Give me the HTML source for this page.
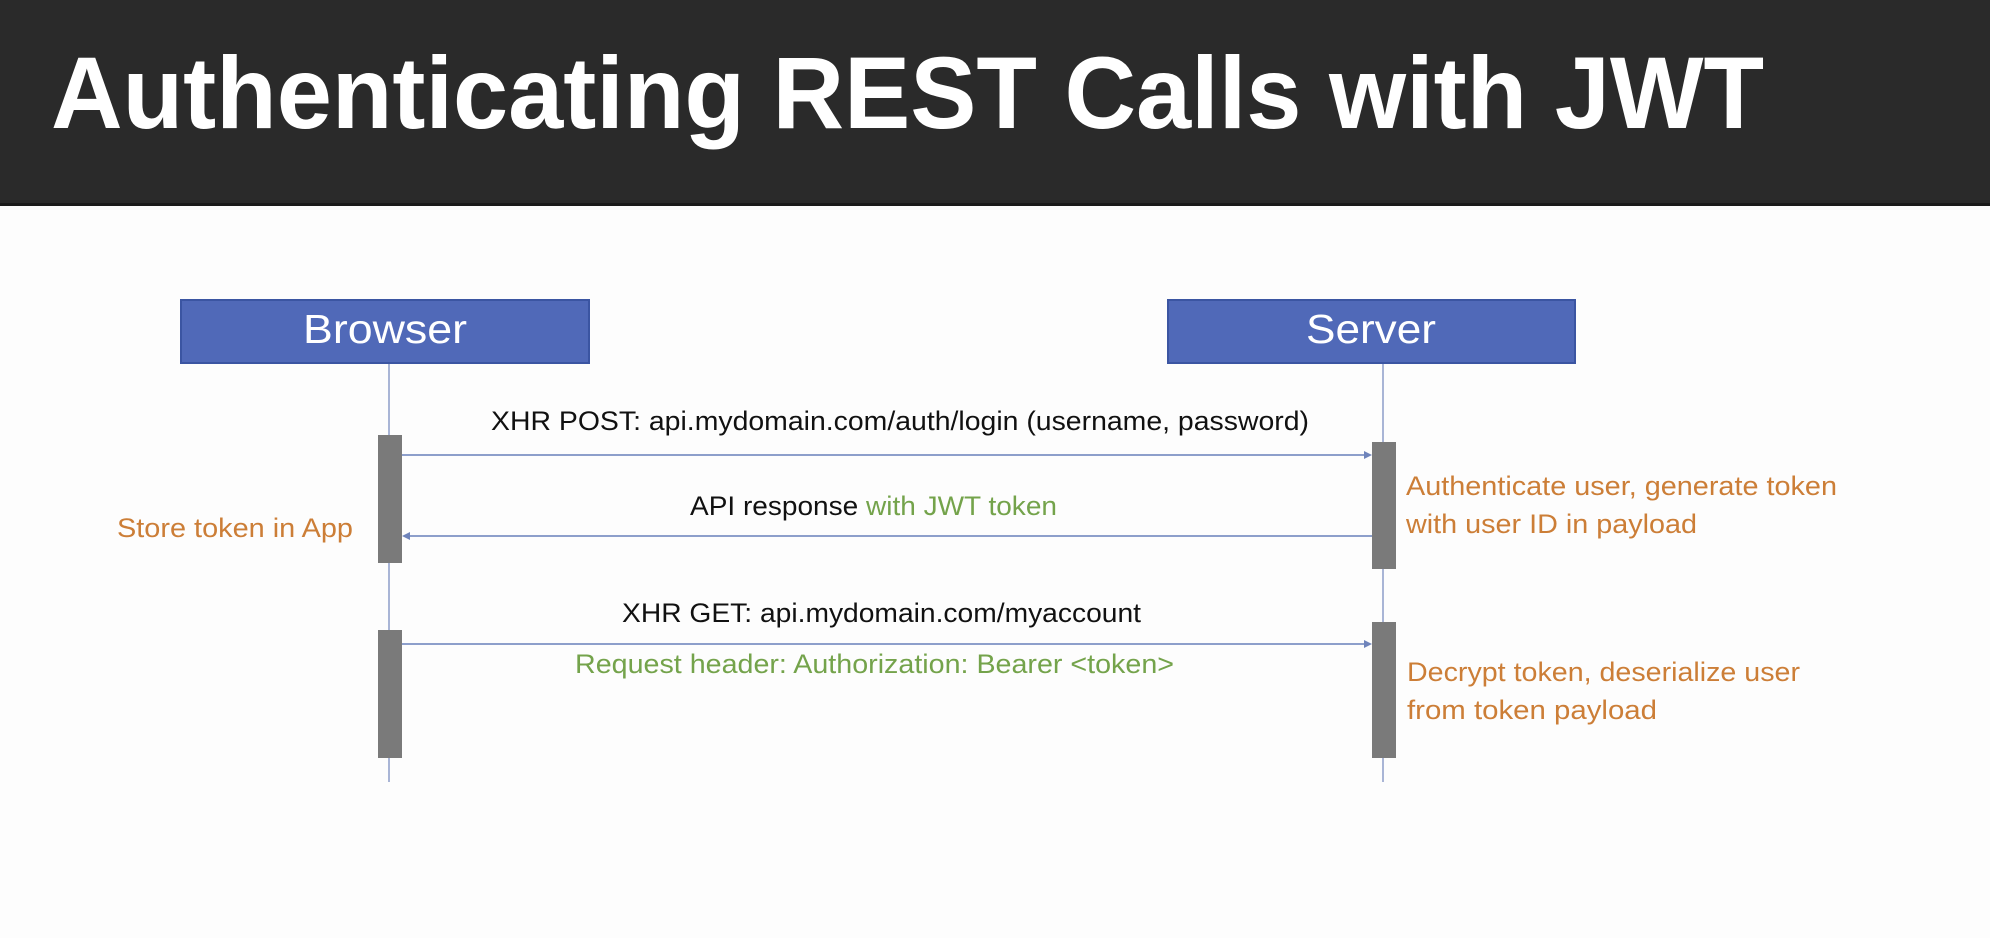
<!DOCTYPE html>
<html><head><meta charset="utf-8"><style>
html,body{margin:0;padding:0;width:1990px;height:938px;overflow:hidden;background:#fdfdfd}
svg{display:block}
text{font-family:"Liberation Sans",sans-serif}
</style></head><body>
<svg width="1990" height="938" viewBox="0 0 1990 938" xmlns="http://www.w3.org/2000/svg">
<rect x="0" y="0" width="1990" height="938" fill="#fdfdfd"/>
<rect x="0" y="0" width="1990" height="205" fill="#2a2a2a"/>
<rect x="0" y="203" width="1990" height="3" fill="#1a1a1a"/>
<text x="51" y="128" font-size="102" font-weight="bold" fill="#ffffff" textLength="1713" lengthAdjust="spacingAndGlyphs">Authenticating REST Calls with JWT</text>

<rect x="181" y="300" width="408" height="63" fill="#5069b8" stroke="#3b55a2" stroke-width="2"/>
<text x="385" y="343" font-size="41" fill="#ffffff" text-anchor="middle" textLength="164" lengthAdjust="spacingAndGlyphs">Browser</text>
<rect x="1168" y="300" width="407" height="63" fill="#5069b8" stroke="#3b55a2" stroke-width="2"/>
<text x="1371" y="343" font-size="41" fill="#ffffff" text-anchor="middle" textLength="130" lengthAdjust="spacingAndGlyphs">Server</text>

<line x1="389" y1="364" x2="389" y2="782" stroke="#a9b5d6" stroke-width="2"/>
<line x1="1383" y1="364" x2="1383" y2="782" stroke="#a9b5d6" stroke-width="2"/>

<rect x="378" y="435" width="24" height="128" fill="#7a7a7a"/>
<rect x="378" y="630" width="24" height="128" fill="#7a7a7a"/>
<rect x="1372" y="442" width="24" height="127" fill="#7a7a7a"/>
<rect x="1372" y="622" width="24" height="136" fill="#7a7a7a"/>

<line x1="402" y1="455" x2="1368" y2="455" stroke="#8d9fcb" stroke-width="2"/>
<polygon points="1372,455 1364,451 1364,459" fill="#6f84bb"/>
<line x1="406" y1="536" x2="1372" y2="536" stroke="#8d9fcb" stroke-width="2"/>
<polygon points="402,536 410,532 410,540" fill="#6f84bb"/>
<line x1="402" y1="644" x2="1368" y2="644" stroke="#8d9fcb" stroke-width="2"/>
<polygon points="1372,644 1364,640 1364,648" fill="#6f84bb"/>

<text x="491" y="430" font-size="27" fill="#111" textLength="818" lengthAdjust="spacingAndGlyphs">XHR POST: api.mydomain.com/auth/login (username, password)</text>
<text x="690" y="515" font-size="27" fill="#111" textLength="367" lengthAdjust="spacingAndGlyphs">API response <tspan fill="#74a34b">with JWT token</tspan></text>
<text x="622" y="622" font-size="27" fill="#111" textLength="519" lengthAdjust="spacingAndGlyphs">XHR GET: api.mydomain.com/myaccount</text>
<text x="575" y="673" font-size="27" fill="#74a34b" textLength="599" lengthAdjust="spacingAndGlyphs">Request header: Authorization: Bearer &lt;token&gt;</text>

<text x="117" y="537" font-size="27" fill="#cc7e37" textLength="236" lengthAdjust="spacingAndGlyphs">Store token in App</text>
<text x="1406" y="495" font-size="27" fill="#cc7e37" textLength="431" lengthAdjust="spacingAndGlyphs">Authenticate user, generate token</text>
<text x="1406" y="533" font-size="27" fill="#cc7e37" textLength="291" lengthAdjust="spacingAndGlyphs">with user ID in payload</text>
<text x="1407" y="681" font-size="27" fill="#cc7e37" textLength="393" lengthAdjust="spacingAndGlyphs">Decrypt token, deserialize user</text>
<text x="1407" y="719" font-size="27" fill="#cc7e37" textLength="250" lengthAdjust="spacingAndGlyphs">from token payload</text>
</svg>
</body></html>
